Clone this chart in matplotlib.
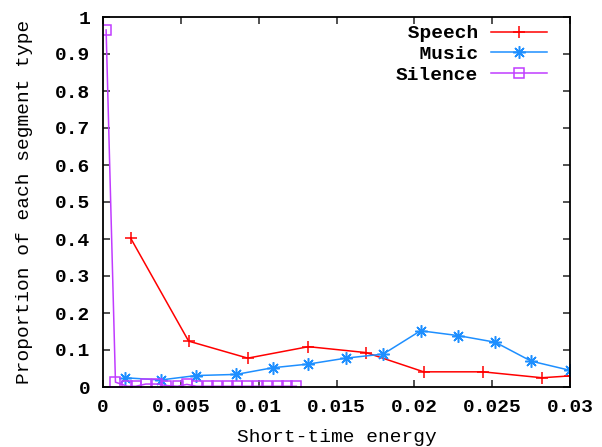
import numpy as np
import matplotlib
matplotlib.use("Agg")
import matplotlib.pyplot as plt

# data
speech_x = [0.00178, 0.0055, 0.0093, 0.0132, 0.0169, 0.0206, 0.0244, 0.0282, 0.0300]
speech_y = [0.402, 0.124, 0.078, 0.109, 0.093, 0.041, 0.041, 0.025, 0.030]

music_x = [0.0014, 0.0037, 0.0060, 0.00855, 0.0109, 0.0132, 0.0156, 0.0180,
           0.0204, 0.0228, 0.0252, 0.0275, 0.0300]
music_y = [0.025, 0.019, 0.031, 0.034, 0.052, 0.062, 0.078, 0.089,
           0.152, 0.139, 0.121, 0.070, 0.045]

silence_x = [0.0002, 0.0008, 0.00157, 0.00211, 0.00275, 0.0035, 0.00404,
             0.00479, 0.00539, 0.00601, 0.00672, 0.00733, 0.00801, 0.00861,
             0.00926, 0.00994, 0.01055, 0.01123, 0.01184, 0.01242]
silence_y = [0.965, 0.013, 0.002, 0.002, 0.008, 0.008, 0.004,
             0.002, 0.007, 0.002, 0.002, 0.002, 0.002, 0.002,
             0.002, 0.002, 0.002, 0.002, 0.002, 0.002]

xticks = [0, 0.005, 0.01, 0.015, 0.02, 0.025, 0.03]
xtick_labels = ["0", "0.005", "0.01", "0.015", "0.02", "0.025", "0.03"]
yticks = [0, 0.1, 0.2, 0.3, 0.4, 0.5, 0.6, 0.7, 0.8, 0.9, 1]
ytick_labels = ["0", "0.1", "0.2", "0.3", "0.4", "0.5", "0.6", "0.7", "0.8", "0.9", "1"]

plt.rcParams['font.family'] = ['Liberation Mono', 'DejaVu Sans Mono']
plt.rcParams['font.weight'] = 'bold'
fsize = 14

fig = plt.figure(figsize=(6.02, 4.47), dpi=100)
ax = fig.add_axes([103 / 602, 1 - 387 / 447, 467 / 602, 370 / 447])

# plot the three series
ax.plot(speech_x, speech_y, color='#ff0000', lw=1.1, marker='+',
        markersize=9, markeredgewidth=1.1, label=' Speech')
ax.plot(music_x, music_y, color='#1e8fff', lw=1.1, marker=(8, 2, 0),
        markersize=9, markeredgewidth=1.1, label='  Music')
ax.plot(silence_x, silence_y, color='#c03cff', lw=1.1, marker='s',
        markersize=6.5, markerfacecolor='none', markeredgewidth=1.1,
        label='Silence')

ax.set_xlim(0, 0.03)
ax.set_ylim(0, 1)
ax.set_xticks(xticks)
ax.set_xticklabels(xtick_labels)
ax.set_yticks(yticks)
ax.set_yticklabels(ytick_labels)
ax.tick_params(direction='in', length=5, width=1.2, top=True, right=True,
               labelsize=fsize, pad=9, color='#333333')
for spine in ax.spines.values():
    spine.set_linewidth(1.3)

ax.set_xlabel('Short-time energy', fontsize=fsize, labelpad=9)
ax.set_ylabel('Proportion of each segment type', fontsize=fsize, labelpad=16)

leg = ax.legend(loc='upper right', bbox_to_anchor=(0.951, 0.979),
                frameon=False, markerfirst=False, fontsize=fsize,
                borderpad=0, borderaxespad=0,
                handlelength=2.9, handletextpad=0.65, labelspacing=0.16)

plt.savefig('out.png', dpi=100)
